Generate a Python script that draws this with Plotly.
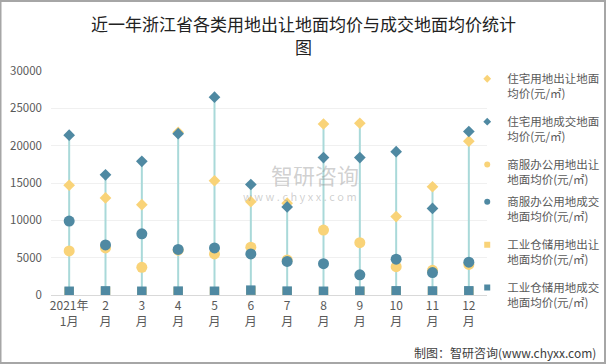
import plotly.graph_objects as go

months = ["2021年<br>1月", "2<br>月", "3<br>月", "4<br>月", "5<br>月", "6<br>月",
          "7<br>月", "8<br>月", "9<br>月", "10<br>月", "11<br>月", "12<br>月"]
res_transfer = [14700, 13000, 12100, 21800, 15300, 12500, 12300, 22900, 23000, 10500, 14500, 20600]
res_deal = [21400, 16100, 17900, 21600, 26500, 14800, 11800, 18400, 18400, 19200, 11600, 21900]
com_transfer = [5900, 6300, 3700, 6000, 5500, 6400, 4700, 8700, 7000, 3800, 3300, 4100]
com_deal = [9900, 6700, 8200, 6100, 6300, 5500, 4500, 4200, 2700, 4800, 3000, 4400]
ind_transfer = [400, 450, 400, 420, 400, 500, 420, 400, 420, 450, 430, 440]
ind_deal = [500, 550, 500, 520, 500, 650, 520, 500, 520, 560, 540, 560]
names = ["住宅用地出让地面<br>均价(元/㎡)", "住宅用地成交地面<br>均价(元/㎡)",
         "商服办公用地出让<br>地面均价(元/㎡)", "商服办公用地成交<br>地面均价(元/㎡)",
         "工业仓储用地出让<br>地面均价(元/㎡)", "工业仓储用地成交<br>地面均价(元/㎡)"]

YEL = "#F9D378"
BLU = "#4F89A2"
series = [res_transfer, res_deal, com_transfer, com_deal, ind_transfer, ind_deal]
colors = [YEL, BLU, YEL, BLU, YEL, BLU]
symbols = ["diamond", "diamond", "circle", "circle", "square", "square"]
sizes = [9, 9, 11, 11, 9.5, 9.5]

fig = go.Figure()

# high-low lines
lx, ly = [], []
for i, m in enumerate(months):
    vals = [s[i] for s in series]
    lx += [m, m, None]
    ly += [min(vals), max(vals), None]
fig.add_trace(go.Scatter(x=lx, y=ly, mode="lines", line=dict(color="#A9D9D9", width=2),
                         showlegend=False, hoverinfo="skip"))

for k, (s, n, c, sym, sz) in enumerate(zip(series, names, colors, symbols, sizes)):
    fig.add_trace(go.Scatter(x=months, y=s, name=n, mode="markers", showlegend=False,
                             legendgroup="g%d" % k,
                             marker=dict(color=c, symbol=sym, size=sz, line=dict(width=0))))
# legend entries with small markers (split over two legends)
for k, (n, c, sym) in enumerate(zip(names, colors, symbols)):
    fig.add_trace(go.Scatter(x=[months[0]], y=[None], name=n, mode="markers",
                             legendgroup="g%d" % k, legend="legend" if k < 3 else "legend2",
                             marker=dict(color=c, symbol=sym, size=6, line=dict(width=0))))

leg_common = dict(xref="container", yref="container", x=0.771, xanchor="left",
                  yanchor="top", valign="top", font=dict(size=11.5, color="#595959"),
                  tracegroupgap=10, itemwidth=30, traceorder="grouped",
                  bgcolor="rgba(0,0,0,0)")
y1 = 0.822
fig.update_layout(
    width=606, height=364,
    margin=dict(l=51, r=119, t=71, b=69, autoexpand=False),
    plot_bgcolor="white", paper_bgcolor="white",
    font=dict(family="Noto Sans CJK SC, sans-serif", size=12, color="#595959"),
    xaxis=dict(showgrid=False, showline=True, linecolor="#D9D9D9", linewidth=1,
               range=[-0.5, 11.5], ticks="", tickfont=dict(size=12, color="#595959")),
    yaxis=dict(range=[0, 30000], tickvals=[0, 5000, 10000, 15000, 20000, 25000, 30000],
               tickformat="d",
               showgrid=True, gridcolor="#F0F0F0", zeroline=False, showline=False,
               tickfont=dict(size=11.5, color="#595959"), ticklabelstandoff=8),
    legend=dict(y=y1, **leg_common),
    legend2=dict(y=y1 - 123 / 364, **leg_common),
    showlegend=True,
)

title_font = dict(size=17, color="#222222")
fig.add_annotation(text="近一年浙江省各类用地出让地面均价与成交地面均价统计",
                   xref="paper", yref="paper", x=(303 - 51) / 436, y=(295 - 24) / 224,
                   xanchor="center", yanchor="middle", showarrow=False, font=title_font)
fig.add_annotation(text="图",
                   xref="paper", yref="paper", x=(303 - 51) / 436, y=(295 - 47) / 224,
                   xanchor="center", yanchor="middle", showarrow=False, font=title_font)
fig.add_annotation(text="制图：智研咨询(www.chyxx.com)", xref="paper", yref="paper",
                   x=(598 - 51) / 436, y=(295 - 352) / 224, xanchor="right", yanchor="middle",
                   showarrow=False, font=dict(size=12, color="#404040"))
# watermark
fig.add_annotation(text="智研咨询", xref="paper", yref="paper", x=(315 - 51) / 436,
                   y=(295 - 174) / 224, yanchor="middle",
                   showarrow=False, font=dict(size=22, color="rgba(150,150,150,0.45)"))
fig.add_annotation(text="w w w . c h y x x . c o m", xref="paper", yref="paper",
                   x=(300 - 51) / 436, y=(295 - 196) / 224, yanchor="middle",
                   showarrow=False, font=dict(size=11, color="rgba(150,150,150,0.45)"))
fig.add_shape(type="rect", xref="paper", yref="paper", x0=-50.5 / 436, x1=554 / 436,
              y0=(295 - 363) / 224, y1=(295 - 1) / 224,
              line=dict(color="#A6A6A6", width=2), fillcolor="rgba(0,0,0,0)")

fig.write_html("out.html", config={"displayModeBar": False},
               post_script="document.body.style.margin='0';")
